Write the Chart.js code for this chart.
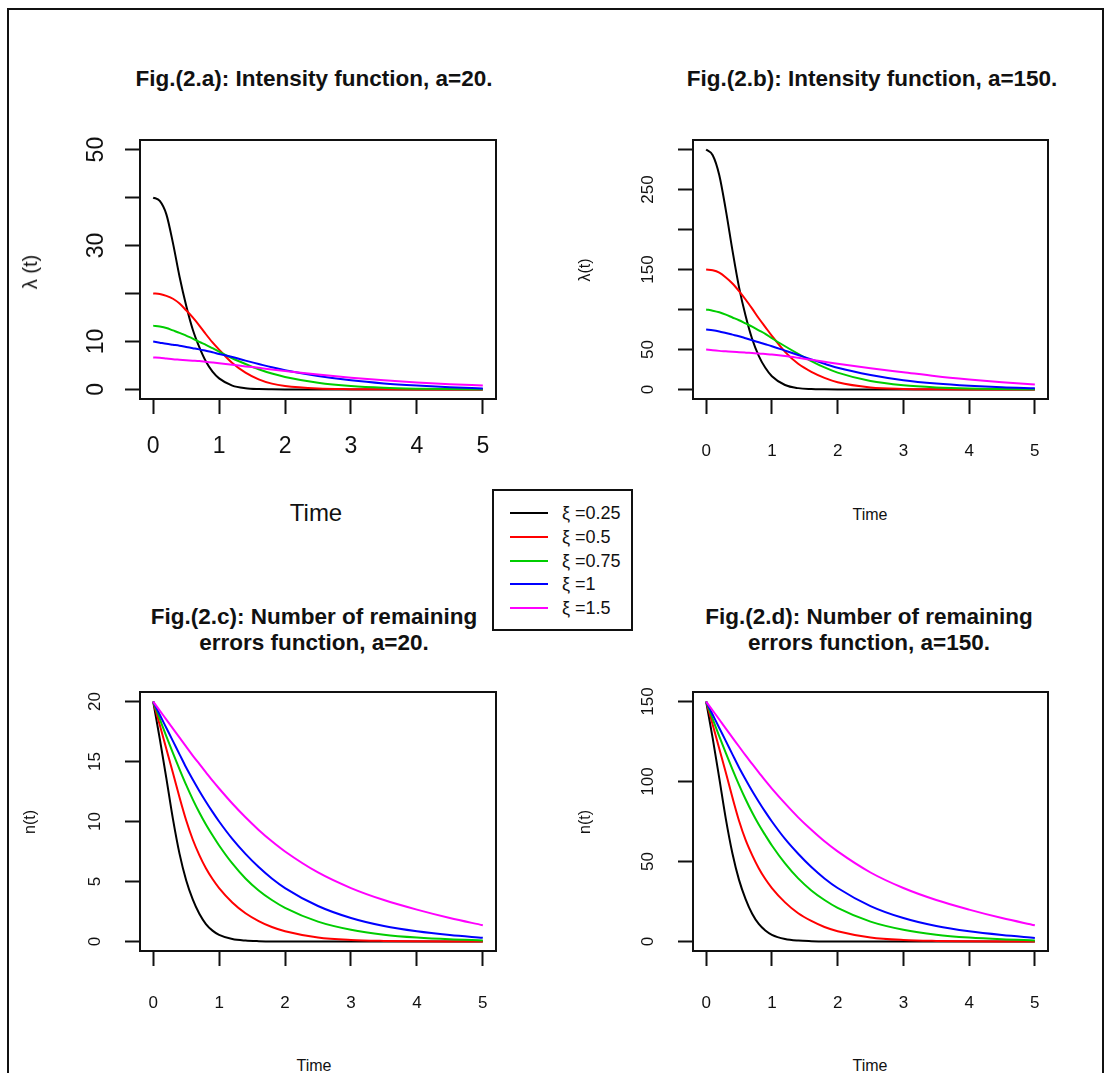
<!DOCTYPE html>
<html>
<head>
<meta charset="utf-8">
<script src="https://cdn.jsdelivr.net/npm/chart.js@4.4.1/dist/chart.umd.min.js"></script>
<style>
html,body{margin:0;padding:0;background:#fff;}
#page{position:relative;width:1108px;height:1073px;overflow:hidden;background:#fff;font-family:"Liberation Sans",Arial,sans-serif;color:#111;}
#frame{position:absolute;left:7px;top:8px;width:1097px;height:1100px;border:2px solid #111;box-sizing:border-box;}
canvas{position:absolute;}
.t{position:absolute;white-space:nowrap;transform:translate(-50%,-50%);line-height:1;z-index:5;}
.r{transform:translate(-50%,-50%) rotate(-90deg);}
.b{font-weight:bold;}
#legend{position:absolute;left:492px;top:489px;width:141px;height:142px;border:2px solid #111;box-sizing:border-box;background:#fff;z-index:6;}
.lrow{position:absolute;left:0;width:100%;height:0;}
.lline{position:absolute;left:16px;width:38px;top:-1px;height:2px;}
.ltxt{position:absolute;left:68px;top:-10px;font-size:18px;line-height:20px;white-space:nowrap;}
</style>
</head>
<body>
<div id="page">
  <div id="frame"></div>
  <canvas id="cA"></canvas>
  <canvas id="cB"></canvas>
  <canvas id="cC"></canvas>
  <canvas id="cD"></canvas>

  <div class="t b" style="left:314px;top:79px;font-size:22.5px;">Fig.(2.a): Intensity function, a=20.</div>
  <div class="t b" style="left:872px;top:79px;font-size:22.5px;">Fig.(2.b): Intensity function, a=150.</div>
  <div class="t b" style="left:314px;top:629px;font-size:22.5px;line-height:25.5px;text-align:center;">Fig.(2.c): Number of remaining<br>errors function, a=20.</div>
  <div class="t b" style="left:869px;top:629px;font-size:22.5px;line-height:25.5px;text-align:center;">Fig.(2.d): Number of remaining<br>errors function, a=150.</div>

  <div class="t" style="left:316px;top:513px;font-size:24px;">Time</div>
  <div class="t" style="left:870px;top:515px;font-size:16px;">Time</div>
  <div class="t" style="left:314px;top:1066px;font-size:16px;">Time</div>
  <div class="t" style="left:870px;top:1066px;font-size:16px;">Time</div>

  <div class="t r" style="left:30px;top:272px;font-size:20px;">λ (t)</div>
  <div class="t r" style="left:585px;top:270px;font-size:16px;">λ(t)</div>
  <div class="t r" style="left:30px;top:822px;font-size:16px;">n(t)</div>
  <div class="t r" style="left:585px;top:822px;font-size:16px;">n(t)</div>

  <div id="legend"></div>
</div>

<script>
// ---------- data ----------
const times = [0, 0.1, 0.2, 0.3, 0.4, 0.5, 0.6, 0.7, 0.8, 0.9, 1.0, 1.2, 1.4, 1.6, 1.8, 2.0, 2.5, 3.0, 3.5, 4.0, 4.5, 5.0];
const xTickValues = [0, 1, 2, 3, 4, 5];
const legendLabels = ["ξ =0.25", "ξ =0.5", "ξ =0.75", "ξ =1", "ξ =1.5"];

// Fig 2.a intensity, a=20
const lamA_xi025 = [40, 39.3, 36.5, 30.5, 23.5, 17.5, 12.5, 8.8, 5.8, 3.7, 2.3, 0.8, 0.25, 0.07, 0.02, 0, 0, 0, 0, 0, 0, 0];
const lamA_xi05  = [20, 19.9, 19.5, 18.9, 17.9, 16.5, 15.0, 13.3, 11.5, 9.8, 8.3, 5.5, 3.5, 2.1, 1.2, 0.7, 0.18, 0.05, 0.01, 0, 0, 0];
const lamA_xi075 = [13.3, 13.1, 12.8, 12.3, 11.8, 11.2, 10.6, 9.9, 9.3, 8.6, 7.9, 6.5, 5.3, 4.2, 3.3, 2.6, 1.4, 0.7, 0.33, 0.15, 0.06, 0.02];
const lamA_xi1   = [10, 9.75, 9.5, 9.3, 9.1, 8.85, 8.6, 8.35, 8.05, 7.75, 7.4, 6.75, 6.0, 5.3, 4.6, 4.0, 2.8, 1.9, 1.25, 0.8, 0.45, 0.2];
const lamA_xi15  = [6.67, 6.6, 6.45, 6.3, 6.2, 6.1, 6.0, 5.9, 5.75, 5.6, 5.45, 5.15, 4.8, 4.5, 4.15, 3.85, 3.1, 2.45, 1.9, 1.45, 1.1, 0.8];

// Fig 2.b intensity, a=150
const lamB_xi025 = [300, 293, 268, 224, 174, 128, 92, 63, 42, 27, 16.5, 5.5, 1.6, 0.5, 0.15, 0, 0, 0, 0, 0, 0, 0];
const lamB_xi05  = [150, 149, 146, 140, 132.5, 123, 112.5, 101, 89, 78, 67, 47, 32, 22, 14.5, 9, 2.5, 0.6, 0.15, 0, 0, 0];
const lamB_xi075 = [100, 98.5, 96.5, 93.5, 90, 86.5, 82.5, 78.5, 74, 69.5, 64, 54, 44.5, 35.5, 27.5, 21, 10.5, 5.2, 2.5, 1.1, 0.5, 0.2];
const lamB_xi1   = [75, 74, 72.5, 70.5, 68.5, 66.5, 64, 61.5, 59, 56.5, 54, 48.5, 43, 37.5, 32, 27, 18, 11.5, 7.3, 4.5, 2.6, 1.5];
const lamB_xi15  = [50, 49, 48.2, 47.6, 47, 46.5, 46, 45.5, 45, 44.3, 43.6, 41.8, 39.5, 37, 34.5, 32, 26.5, 21.5, 16.5, 12.5, 9, 6];

// Fig 2.c remaining errors, a=20
const nC_xi025 = [20, 16.9, 13.6, 10.2, 7.3, 5.1, 3.5, 2.3, 1.45, 0.9, 0.55, 0.2, 0.07, 0.02, 0, 0, 0, 0, 0, 0, 0, 0];
const nC_xi05  = [20, 18.05, 16.05, 14.05, 12.0, 10.1, 8.5, 7.2, 6.1, 5.2, 4.45, 3.25, 2.35, 1.7, 1.2, 0.85, 0.33, 0.12, 0.04, 0.01, 0, 0];
const nC_xi075 = [20, 18.55, 17.1, 15.7, 14.35, 13.05, 11.85, 10.75, 9.75, 8.85, 8.0, 6.5, 5.25, 4.25, 3.45, 2.8, 1.65, 0.97, 0.56, 0.32, 0.17, 0.08];
const nC_xi1   = [20, 18.9, 17.8, 16.7, 15.6, 14.5, 13.5, 12.55, 11.65, 10.8, 10.0, 8.55, 7.3, 6.2, 5.25, 4.45, 2.95, 1.95, 1.28, 0.84, 0.53, 0.3];
const nC_xi15  = [20, 19.25, 18.5, 17.75, 17.0, 16.25, 15.5, 14.8, 14.1, 13.4, 12.75, 11.5, 10.35, 9.3, 8.35, 7.5, 5.75, 4.45, 3.45, 2.65, 1.95, 1.35];

// Fig 2.d remaining errors, a=150
const nD_xi025 = [150, 127, 102, 76.5, 55, 38.5, 26.5, 17.3, 10.9, 6.8, 4.1, 1.5, 0.5, 0.15, 0, 0, 0, 0, 0, 0, 0, 0];
const nD_xi05  = [150, 135.5, 120.5, 105.5, 90, 75.5, 63.5, 54, 45.8, 39, 33.4, 24.4, 17.6, 12.8, 9, 6.4, 2.5, 0.9, 0.3, 0.08, 0, 0];
const nD_xi075 = [150, 139, 128.3, 117.8, 107.6, 97.9, 88.9, 80.6, 73.1, 66.4, 60, 48.8, 39.4, 31.9, 25.9, 21, 12.4, 7.3, 4.2, 2.4, 1.3, 0.6];
const nD_xi1   = [150, 141.8, 133.5, 125.3, 117, 108.8, 101.3, 94.1, 87.4, 81, 75, 64.1, 54.8, 46.5, 39.4, 33.4, 22.1, 14.6, 9.6, 6.3, 4.0, 2.2];
const nD_xi15  = [150, 144.4, 138.8, 133.1, 127.5, 121.9, 116.3, 111, 105.8, 100.5, 95.6, 86.3, 77.6, 69.8, 62.6, 56.3, 43.1, 33.4, 25.9, 19.9, 14.6, 10.1];

// y-axis ticks and which of them carry a label
const yTicksA = [0, 10, 20, 30, 40, 50];   const yLabelsA = [0, 10, 30, 50];
const yTicksB = [0, 50, 100, 150, 200, 250, 300]; const yLabelsB = [0, 50, 150, 250];
const yTicksC = [0, 5, 10, 15, 20];        const yLabelsC = [0, 5, 10, 15, 20];
const yTicksD = [0, 50, 100, 150];         const yLabelsD = [0, 50, 100, 150];

// ---------- styles ----------
const seriesColors = ["#000000", "#FF0000", "#00CD00", "#0000FF", "#FF00FF"];
const FONT = '"Liberation Sans", Arial, sans-serif';

// legend
(function(){
  const lg = document.getElementById('legend');
  const rowTops = [22, 46, 70, 93, 117];
  legendLabels.forEach((lab, i) => {
    const row = document.createElement('div');
    row.className = 'lrow';
    row.style.top = rowTops[i] + 'px';
    const ln = document.createElement('div');
    ln.className = 'lline';
    ln.style.background = seriesColors[i];
    const tx = document.createElement('div');
    tx.className = 'ltxt';
    tx.textContent = lab;
    row.appendChild(ln); row.appendChild(tx);
    lg.appendChild(row);
  });
})();

const boxPlugin = {
  id: 'plotBox',
  afterDraw(chart) {
    const {ctx, chartArea: a} = chart;
    ctx.save();
    ctx.strokeStyle = '#111';
    ctx.lineWidth = 2;
    ctx.strokeRect(a.left, a.top, a.right - a.left, a.bottom - a.top);
    ctx.restore();
  }
};

function makePanel(canvasId, box, yMin, yMax, yTicks, yLabels, seriesList, fs) {
  const cv = document.getElementById(canvasId);
  const padTop = 10, padRight = 10, yAxisW = 110, xAxisH = 81;
  const left = box.l - yAxisW, top = box.t - padTop;
  const w = box.r - box.l + yAxisW + padRight, h = box.b - box.t + padTop + xAxisH;
  cv.style.left = left + 'px'; cv.style.top = top + 'px';
  cv.style.width = w + 'px'; cv.style.height = h + 'px';
  cv.width = w; cv.height = h;
  new Chart(cv, {
    type: 'line',
    data: {
      datasets: seriesList.map((vals, i) => ({
        label: legendLabels[i],
        data: times.map((t, k) => ({x: t, y: vals[k]})),
        borderColor: seriesColors[i],
        backgroundColor: seriesColors[i],
        borderWidth: 2,
        pointRadius: 0,
        fill: false,
        cubicInterpolationMode: 'monotone',
        order: 4 - i
      }))
    },
    options: {
      responsive: false,
      animation: false,
      events: [],
      layout: {padding: {top: padTop, right: padRight, left: 0, bottom: 0}},
      plugins: {legend: {display: false}, tooltip: {enabled: false}, title: {display: false}},
      scales: {
        x: {
          type: 'linear', min: -0.2, max: 5.2,
          afterBuildTicks(s) { s.ticks = xTickValues.map(v => ({value: v})); },
          afterFit(s) { s.height = xAxisH; s.paddingLeft = 0; s.paddingRight = 0; },
          grid: {drawOnChartArea: false, drawTicks: true, tickLength: 15, tickWidth: 2, tickColor: '#111'},
          border: {display: false},
          ticks: {font: {family: FONT, size: fs.x}, color: '#111', padding: fs.xpad, autoSkip: false,
                  minRotation: 0, maxRotation: 0, callback: v => String(v)}
        },
        y: {
          type: 'linear', min: yMin, max: yMax,
          afterBuildTicks(s) { s.ticks = yTicks.map(v => ({value: v})); },
          afterFit(s) { s.width = yAxisW; s.paddingTop = 0; s.paddingBottom = 0; },
          grid: {drawOnChartArea: false, drawTicks: true, tickLength: 15, tickWidth: 2, tickColor: '#111'},
          border: {display: false},
          ticks: {font: {family: FONT, size: fs.y}, color: '#111', padding: fs.ypad, autoSkip: false,
                  minRotation: 90, maxRotation: 90, crossAlign: 'center',
                  callback: v => (yLabels.indexOf(v) >= 0 ? String(v) : '')}
        }
      }
    },
    plugins: [boxPlugin]
  });
}

makePanel('cA', {l: 140, t: 140, r: 496, b: 399}, -2, 52, yTicksA, yLabelsA,
  [lamA_xi025, lamA_xi05, lamA_xi075, lamA_xi1, lamA_xi15], {x: 23, xpad: 19, y: 23, ypad: 16});
makePanel('cB', {l: 693, t: 140, r: 1048, b: 399}, -12, 312, yTicksB, yLabelsB,
  [lamB_xi025, lamB_xi05, lamB_xi075, lamB_xi1, lamB_xi15], {x: 17, xpad: 27, y: 17, ypad: 16});
makePanel('cC', {l: 140, t: 692, r: 496, b: 951}, -0.8, 20.8, yTicksC, yLabelsC,
  [nC_xi025, nC_xi05, nC_xi075, nC_xi1, nC_xi15], {x: 17, xpad: 27, y: 17, ypad: 20});
makePanel('cD', {l: 693, t: 692, r: 1048, b: 951}, -6, 156, yTicksD, yLabelsD,
  [nD_xi025, nD_xi05, nD_xi075, nD_xi1, nD_xi15], {x: 17, xpad: 27, y: 17, ypad: 16});
</script>
</body>
</html>
